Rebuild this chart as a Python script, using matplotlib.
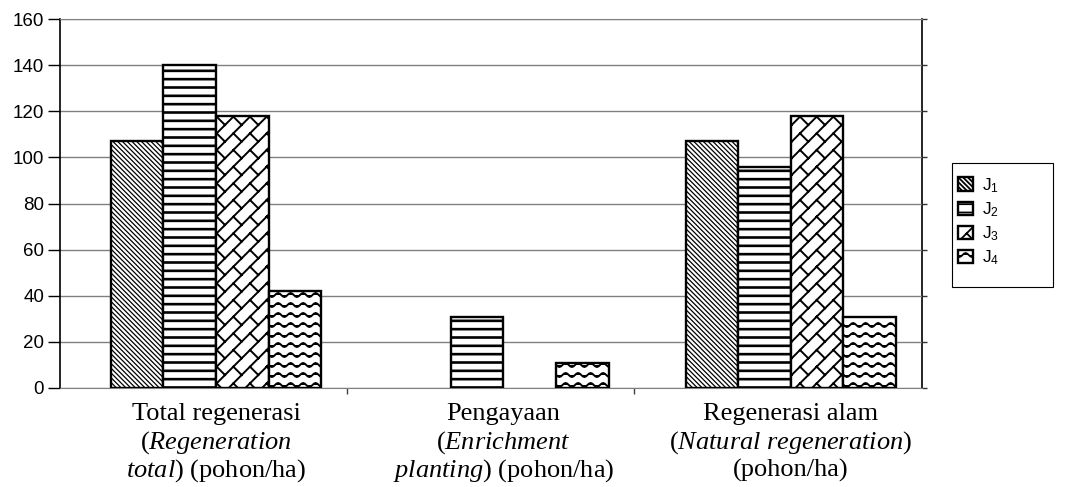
import warnings
import numpy as np
import matplotlib
matplotlib.use("Agg")
import matplotlib.pyplot as plt
import matplotlib.hatch as mhatch
from matplotlib.path import Path
from matplotlib.patches import Rectangle

warnings.filterwarnings("ignore")

# data
categories = [
    "Total regenerasi\n($\\mathit{Regeneration}$\n$\\mathit{total}$) (pohon/ha)",
    "Pengayaan\n($\\mathit{Enrichment}$\n$\\mathit{planting}$) (pohon/ha)",
    "Regenerasi alam\n($\\mathit{Natural\\ regeneration}$)\n(pohon/ha)",
]
series_names = ["J$_1$", "J$_2$", "J$_3$", "J$_4$"]
J1 = [107, 0, 107]
J2 = [140, 31, 96]
J3 = [118, 0, 118]
J4 = [42, 11, 31]
values = [J1, J2, J3, J4]
yticks = [0, 20, 40, 60, 80, 100, 120, 140, 160]


# custom hatches: wavy rows ('~') and diagonal brick ('b')
class WaveHatch(mhatch.HatchPatternBase):
    def __init__(self, hatch, density):
        self.rows = hatch.count('~') * 5
        self.steps = 64
        self.num_vertices = self.rows * (self.steps + 1)

    def set_vertices_and_codes(self, vertices, codes):
        xs = np.linspace(0, 1, self.steps + 1)
        pos = 0
        for i in range(self.rows):
            y0 = (i + 0.5) / self.rows
            ys = y0 + 0.02 * np.sin(2 * np.pi * 8 * xs)
            vertices[pos:pos + len(xs), 0] = xs
            vertices[pos:pos + len(xs), 1] = ys
            codes[pos] = Path.MOVETO
            codes[pos + 1:pos + len(xs)] = Path.LINETO
            pos += len(xs)


class BrickHatch(mhatch.HatchPatternBase):
    def __init__(self, hatch, density):
        self.n = 6 if 'b' in hatch else 0
        self.m = 6
        if self.n:
            nl = 2 * self.n + 1
            nseg = nl * (self.m + 3)
            self.num_vertices = 2 * (nl + nseg)
        else:
            self.num_vertices = 0

    def set_vertices_and_codes(self, vertices, codes):
        n, m = self.n, self.m
        segs = []
        for k in range(-n, n + 1):
            c = k / n
            segs.append(((0, c), (1, 1 + c)))
        for k in range(-n, n + 1):
            c = k / n
            for j in range(-1, m + 2):
                a = j / m
                segs.append(((a, a + c), (a + 0.5 / n, a + c - 0.5 / n)))
        pos = 0
        for p0, p1 in segs:
            vertices[pos] = p0
            vertices[pos + 1] = p1
            codes[pos] = Path.MOVETO
            codes[pos + 1] = Path.LINETO
            pos += 2


mhatch._hatch_types.append(WaveHatch)
mhatch._hatch_types.append(BrickHatch)

plt.rcParams['font.family'] = ['Liberation Sans', 'DejaVu Sans']
plt.rcParams['mathtext.fontset'] = 'custom'
plt.rcParams['mathtext.rm'] = 'Liberation Serif'
plt.rcParams['mathtext.it'] = 'Liberation Serif:italic'
plt.rcParams['mathtext.default'] = 'regular'
plt.rcParams['hatch.linewidth'] = 1.3
plt.rcParams['hatch.color'] = 'black'

hatches = ['\\' * 7, '--', 'b', '~~']
hatch_lw = [0.9, 1.9, 1.4, 1.4]

fig = plt.figure(figsize=(10.69, 4.87), dpi=100)
ax = fig.add_axes([60 / 1069, 1 - 388 / 487, (922 - 60) / 1069, (388 - 19) / 487])

x = np.arange(len(categories))
w = 0.183
bars = []
for i, (vals, name) in enumerate(zip(values, series_names)):
    b = ax.bar(x + (i - 1.5) * w, vals, w, color='white', edgecolor='black',
               linewidth=1.7, hatch=hatches[i], label=name, zorder=3)
    for p in b.patches:
        try:
            p.set_hatch_linewidth(hatch_lw[i])
        except AttributeError:
            pass
        if p.get_height() == 0:
            p.set_visible(False)
    bars.append(b)

ax.set_xlim(-0.543, 2.457)
ax.set_ylim(0, 160)
ax.set_yticks(yticks)
ax.yaxis.grid(True, color='#808080', linewidth=1.0, zorder=0)
ax.set_axisbelow(True)
ax.tick_params(axis='y', which='major', direction='out', length=8.5, width=1,
               labelsize=13.5, pad=3, color='black')

sec = ax.secondary_yaxis('right')
sec.set_yticks(yticks)
sec.tick_params(axis='y', direction='out', length=3.5, width=1, labelright=False,
                color='#333333')
sec.spines['right'].set_color('black')
sec.spines['right'].set_linewidth(1.2)

# category labels, one text per line so the spacing stays even
ax.set_xticks(x)
ax.set_xticklabels([])
ax.tick_params(axis='x', which='major', length=0)
for xi, label in zip(x, categories):
    for j, line in enumerate(label.split("\n")):
        ax.annotate(line, xy=(xi, 0), xycoords=('data', 'axes fraction'),
                    xytext=(0, -23.0 - 20.5 * j), textcoords='offset points',
                    ha='center', va='baseline', fontfamily='Liberation Serif',
                    fontsize=19, annotation_clip=False)

ax.set_xticks([0.457, 1.454], minor=True)
ax.tick_params(axis='x', which='minor', direction='out', length=4.5, width=1,
               color='#404040')

ax.spines['left'].set_color('black')
ax.spines['left'].set_linewidth(1.2)
ax.spines['right'].set_visible(False)
ax.spines['bottom'].set_color('#808080')
ax.spines['top'].set_color('#808080')

# legend box
fig.patches.append(Rectangle((952 / 1069, 1 - 287 / 487), 101 / 1069, 124 / 487,
                             transform=fig.transFigure, facecolor='white',
                             edgecolor='black', linewidth=0.8, zorder=-5))
leg = ax.legend([b.patches[0] for b in bars], series_names, loc='upper left',
                bbox_to_anchor=(958 / 1069, 1 - 176 / 487),
                bbox_transform=fig.transFigure, borderaxespad=0, fontsize=12.5,
                frameon=False, handlelength=0.85, handleheight=0.8,
                handletextpad=0.55, labelspacing=0.32, borderpad=0)
for h in leg.legend_handles:
    h.set_visible(True)

fig.savefig('out.png', dpi=100)
